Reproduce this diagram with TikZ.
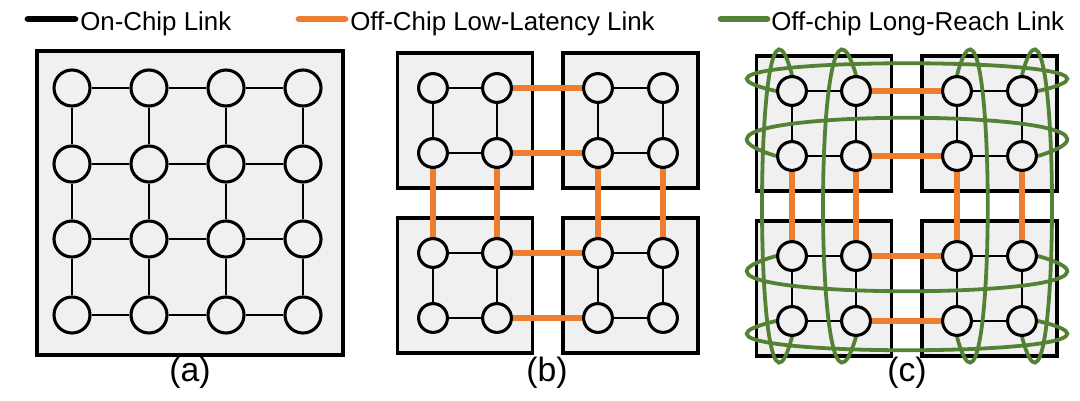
\documentclass[tikz,border=0pt]{standalone}
\usepackage{fontspec}
\setmainfont{Liberation Sans}
\usepackage{xcolor}
\usepackage{tikz}
\usetikzlibrary{positioning}
\definecolor{chipgray}{HTML}{F0F0F0}
\definecolor{linkorange}{HTML}{ED7D31}
\definecolor{linkgreen}{HTML}{548235}
\pgfdeclarelayer{bg}
\pgfdeclarelayer{links}
\pgfsetlayers{bg,links,main}

\begin{document}
\begin{tikzpicture}[
  x=0.025cm, y=-0.025cm,
  chip/.style={draw,line width=2.2pt,fill=chipgray,inner sep=0pt,outer sep=0pt},
  router/.style={draw,circle,line width=2.2pt,fill=chipgray,inner sep=0pt,minimum size=0.9cm},
  srouter/.style={router,minimum size=0.72cm},
  onchip/.style={line width=2pt,black},
  lowlat/.style={line width=3.8pt,linkorange},
  longreach/.style={line width=2.7pt,linkgreen},
  key/.style={line width=4.8pt,line cap=round},
  legend/.style={font=\fontsize{18.4}{22}\selectfont,anchor=base west,inner sep=0pt},
  caption/.style={font=\fontsize{24}{28}\selectfont,anchor=base,inner sep=0pt},
]
\begin{pgfonlayer}{bg}
\fill[white] (0,0) rectangle (1080,401);
\end{pgfonlayer}
\useasboundingbox (0,0) rectangle (1080,401);

\coordinate (k1a) at (28,19); \coordinate (k1b) at (75,19);
\coordinate (k2a) at (299,19); \coordinate (k2b) at (345,19);
\coordinate (k3a) at (721,19); \coordinate (k3b) at (767,19);
\draw[key,black] (k1a) -- (k1b);
\draw[key,linkorange] (k2a) -- (k2b);
\draw[key,linkgreen] (k3a) -- (k3b);
\node[legend] (k1) at (80,30) {On-Chip Link};
\node[legend] (k2) at (350,30) {Off-Chip Low-Latency Link};
\node[legend] (k3) at (771,30) {Off-chip Long-Reach Link};

\begin{pgfonlayer}{bg}
\node[chip,minimum width=7.65cm,minimum height=7.6cm] (chipa) at (190,203) {};
\end{pgfonlayer}
\foreach \r/\y in {1/88,2/164,3/239,4/315}
  \foreach \c/\x in {1/72,2/149,3/226,4/303}
    \node[router] (a\r\c) at (\x,\y) {};
\begin{pgfonlayer}{links}
\foreach \i/\j in {1/2,2/3,3/4}
  \foreach \k in {1,...,4} {
    \draw[onchip] (a\k\i) -- (a\k\j);
    \draw[onchip] (a\i\k) -- (a\j\k);
  }
\end{pgfonlayer}

\foreach \p/\dx/\dy in {b/0/0,c/359/3} {
  \begin{scope}[shift={(\dx,\dy)}]
    \begin{pgfonlayer}{bg}
    \foreach \cx/\cy/\n in {465/120.5/1,630.5/120.5/2,465/285.5/3,630.5/285.5/4}
      \node[chip,minimum size=3.375cm] (\p chip\n) at (\cx,\cy) {};
    \end{pgfonlayer}
    \foreach \r/\y in {1/88,2/153,3/253,4/318}
      \foreach \c/\x in {1/433,2/497,3/598,4/663}
        \node[srouter] (\p\r\c) at (\x,\y) {};
    \begin{pgfonlayer}{links}
    \foreach \i/\j in {1/2,3/4}
      \foreach \k in {1,...,4} {
        \draw[onchip] (\p\k\i) -- (\p\k\j);
        \draw[onchip] (\p\i\k) -- (\p\j\k);
      }
    \foreach \k in {1,...,4} {
      \draw[lowlat] (\p\k2) -- (\p\k3);
      \draw[lowlat] (\p2\k) -- (\p3\k);
    }
    \end{pgfonlayer}
  \end{scope}
}

\begin{pgfonlayer}{links}
\foreach \r/\s in {1/-37,2/-51,3/47,4/39}
  \draw[longreach] (c\r1.west) .. controls +(-165,\s) and +(165,\s) .. (c\r4.east);
\foreach \c/\s in {1/-40,2/-44,3/41,4/40}
  \draw[longreach] (c1\c.north) .. controls +(\s,-150) and +(\s,150) .. (c4\c.south);
\end{pgfonlayer}

\node[caption] (capa) at (190,381) {(a)};
\node[caption] (capb) at (547,381) {(b)};
\node[caption] (capc) at (907,381) {(c)};
\end{tikzpicture}
\end{document}
